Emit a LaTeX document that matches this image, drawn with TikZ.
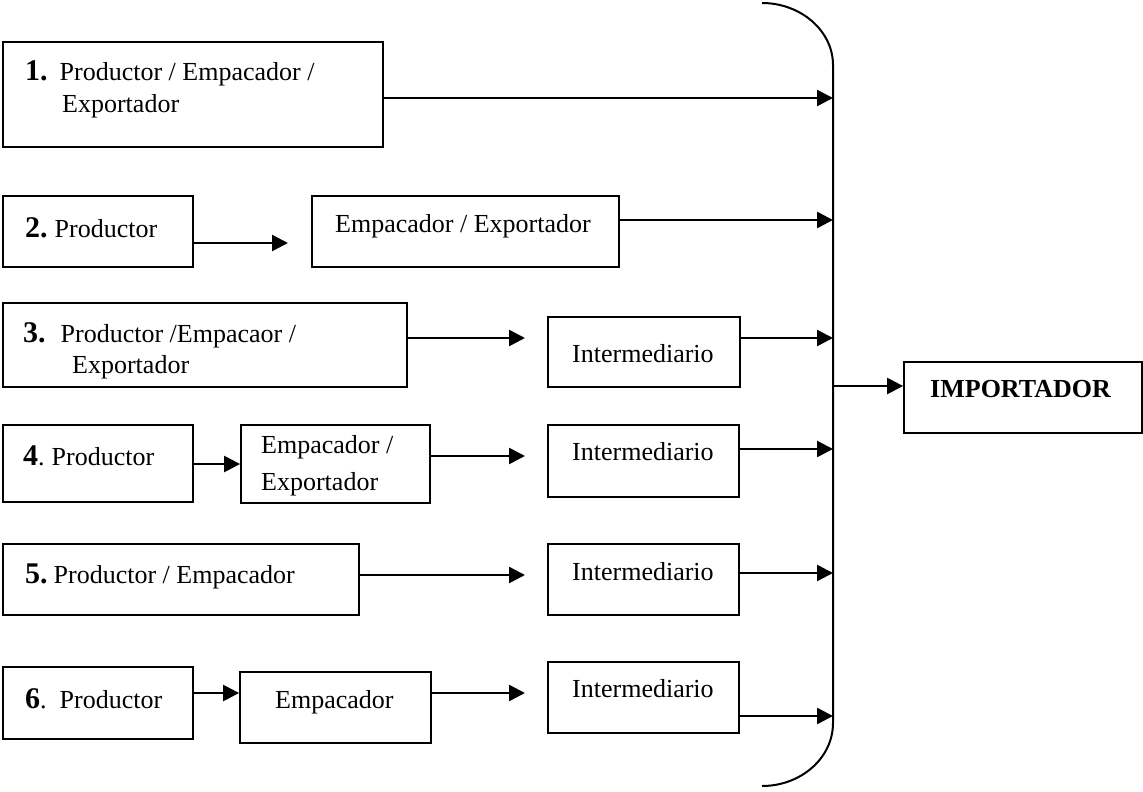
\documentclass[tikz,border=0pt]{standalone}
\usepackage{fontspec}
\setmainfont{Liberation Serif}
\usetikzlibrary{arrows.meta}

% bold step number in front of the first box of each chain
\newcommand\stepnum[1]{{\fontsize{30}{34}\selectfont\bfseries #1}}
% framed box given by its corners: name, x1, y1, x2, y2
\newcommand\chainbox[5]{%
  \node[box, minimum width={#4pt-#2pt}, minimum height={#5pt-#3pt}]
    (#1) at ({(#2+#4)/2},{(#3+#5)/2}) {};}

\begin{document}
\begin{tikzpicture}[x=1pt, y=-1pt,
  box/.style={draw, line width=1.8pt, inner sep=0pt},
  txt/.style={anchor=base west, inner sep=0pt, font=\fontsize{26}{31}\selectfont},
  arr/.style={line width=2.4pt, -{Triangle[length=16pt,width=16pt]}},
  brace/.style={line width=2pt}]
\useasboundingbox (0,0) rectangle (1143,792);

% ---- boxes ----
\chainbox{b1}{3}{42}{383}{147}
\chainbox{b2a}{3}{196}{193}{267}
\chainbox{b2b}{312}{196}{619}{267}
\chainbox{b3a}{3}{303}{407}{387}
\chainbox{b3b}{548}{317}{740}{387}
\chainbox{b4a}{3}{425}{193}{502}
\chainbox{b4b}{241}{425}{430}{503}
\chainbox{b4c}{548}{425}{739}{497}
\chainbox{b5a}{3}{544}{359}{615}
\chainbox{b5b}{548}{544}{739}{615}
\chainbox{b6a}{3}{667}{193}{739}
\chainbox{b6b}{240}{672}{431}{743}
\chainbox{b6c}{548}{662}{739}{733}
\chainbox{imp}{904}{362}{1142}{433}

% ---- box texts ----
\node[txt] (t1a) at (25,81)  {\stepnum{1.}\hspace{12pt}Productor / Empacador /};
\node[txt] (t1b) at (62,112) {Exportador};
\node[txt] (t2a) at (25,237) {\stepnum{2.}\hspace{7pt}Productor};
\node[txt] (t2b) at (335,232) {Empacador / Exportador};
\node[txt] (t3a) at (23,342) {\stepnum{3.}\hspace{15pt}Productor /Empacaor /};
\node[txt] (t3b) at (72,373) {Exportador};
\node[txt] (t3c) at (572,362) {Intermediario};
\node[txt] (t4a) at (23,465) {\stepnum{4}.\hspace{7pt}Productor};
\node[txt] (t4b) at (261,453) {Empacador /};
\node[txt] (t4c) at (261,490) {Exportador};
\node[txt] (t4d) at (572,460) {Intermediario};
\node[txt] (t5a) at (25,583) {\stepnum{5.}\hspace{6pt}Productor / Empacador};
\node[txt] (t5b) at (572,580) {Intermediario};
\node[txt] (t6a) at (25,708) {\stepnum{6}.\hspace{13pt}Productor};
\node[txt] (t6b) at (275,708) {Empacador};
\node[txt] (t6c) at (572,697) {Intermediario};
\node[txt, font=\fontsize{26}{31}\selectfont\bfseries] (timp) at (930,397) {IMPORTADOR};

% ---- collecting bracket ----
\draw[brace] (762,3) .. controls (801,3) and (833,31) .. (833,65)
  -- (833,723) .. controls (833,758) and (801,786) .. (762,786);

% ---- arrow end points ----
\coordinate (r1) at (833,98);
\coordinate (m2) at (288,243);
\coordinate (r2) at (833,220);
\coordinate (m3) at (525,338);
\coordinate (r3) at (833,338);
\coordinate (k4) at (0,464);
\coordinate (m4) at (525,456);
\coordinate (r4) at (833,449);
\coordinate (m5) at (525,575);
\coordinate (r5) at (833,573);
\coordinate (k6) at (0,693);
\coordinate (m6) at (525,693);
\coordinate (r6) at (833,716);
\coordinate (j)  at (833,386);

% ---- arrows ----
\draw[arr] (b1.east |- r1) -- (r1);
\draw[arr] (b2a.east |- m2) -- (m2);
\draw[arr] (b2b.east |- r2) -- (r2);
\draw[arr] (b3a.east |- m3) -- (m3);
\draw[arr] (b3b.east |- r3) -- (r3);
\draw[arr] (b4a.east |- k4) -- (b4b.west |- k4);
\draw[arr] (b4b.east |- m4) -- (m4);
\draw[arr] (b4c.east |- r4) -- (r4);
\draw[arr] (b5a.east |- m5) -- (m5);
\draw[arr] (b5b.east |- r5) -- (r5);
\draw[arr] (b6a.east |- k6) -- (b6b.west |- k6);
\draw[arr] (b6b.east |- m6) -- (m6);
\draw[arr] (b6c.east |- r6) -- (r6);
\draw[arr] (j) -- (imp.west |- j);
\end{tikzpicture}
\end{document}
